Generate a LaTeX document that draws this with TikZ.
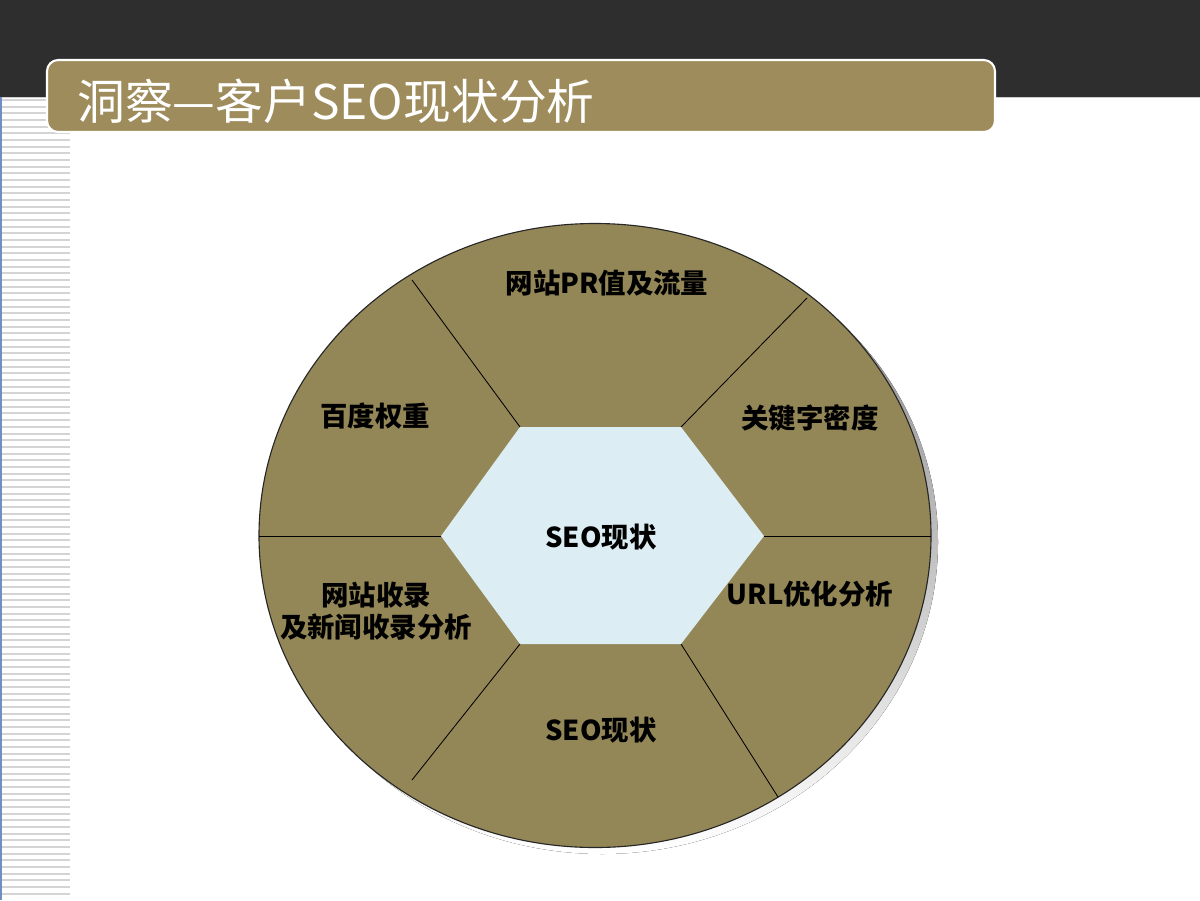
\documentclass[tikz,border=0pt]{standalone}
\usepackage{fontspec}
\newfontfamily\cjk{Noto Sans CJK SC}
\usepackage{tikz}

\definecolor{topbar}{HTML}{2E2E2E}
\definecolor{titlegold}{HTML}{9E8C5C}
\definecolor{olive}{HTML}{948757}
\definecolor{hexblue}{HTML}{DCEDF3}
\definecolor{shade}{HTML}{EFEEE7}
\definecolor{stripegray}{HTML}{D4D4D4}
\definecolor{edgeblue}{HTML}{6F8FC4}

\begin{document}
\begin{tikzpicture}[x=0.025cm, y=-0.025cm, lbl/.style={font=\cjk\bfseries\fontsize{19.5}{23}\selectfont, text=black, align=center, inner sep=0pt}, ttl/.style={font=\cjk\fontsize{34}{38}\selectfont, text=white, anchor=west, inner sep=0pt}, sep/.style={line width=0.6pt, black}]
            \useasboundingbox (0,0) rectangle (1200,900);
            % background
            \fill[topbar] (0,0) rectangle (1200,97);
            \draw[gray!40, line width=0.8pt] (0,97.5) -- (1200,97.5);
            \foreach \i in {0,...,119} {
                \fill[stripegray] (2,{99+6.67*\i}) rectangle (70,{101+6.67*\i});
            }
            \draw[edgeblue, line width=1pt] (1,97) -- (1,900);
            \fill[titlegold, draw=white, line width=1.5pt, rounded corners=8] (47,60) rectangle (995,132);
            \node[ttl] (title) at (77,101) {洞察—客户SEO现状分析};

            % disc
            \fill[shade] (602,542) ellipse [x radius=336, y radius=312];
            \draw[black!85, fill=olive, line width=0.8pt] (595,535.5) ellipse [x radius=336, y radius=312];

            % hexagon corners
            \coordinate (hl) at (441,536);
            \coordinate (htl) at (520,427);
            \coordinate (htr) at (681,427);
            \coordinate (hr) at (764,536);
            \coordinate (hbr) at (681,644);
            \coordinate (hbl) at (520,644);
            % rim points
            \coordinate (rl) at (259,536);
            \coordinate (rtl) at (412,280);
            \coordinate (rtr) at (807,298);
            \coordinate (rr) at (931,536);
            \coordinate (rbr) at (778,797);
            \coordinate (rbl) at (412,780);

            % edges
            \draw[sep] (hl) -- (rl);
            \draw[sep] (htl) -- (rtl);
            \draw[sep] (htr) -- (rtr);
            \draw[sep] (hr) -- (rr);
            \draw[sep] (hbr) -- (rbr);
            \draw[sep] (hbl) -- (rbl);
            \fill[hexblue] (hl) -- (htl) -- (htr) -- (hr) -- (hbr) -- (hbl) -- cycle;

            % nodes
            \node[lbl] (core) at (601,537) {SEO现状};
            \node[lbl] (pr) at (607,283) {网站PR值及流量};
            \node[lbl] (baidu) at (375,416) {百度权重};
            \node[lbl] (kw) at (810,418) {关键字密度};
            \node[lbl] (index) at (376,611) {网站收录\\及新闻收录分析};
            \node[lbl] (url) at (810,594) {URL优化分析};
            \node[lbl] (seo) at (601,730) {SEO现状};
        \end{tikzpicture}
\end{document}
